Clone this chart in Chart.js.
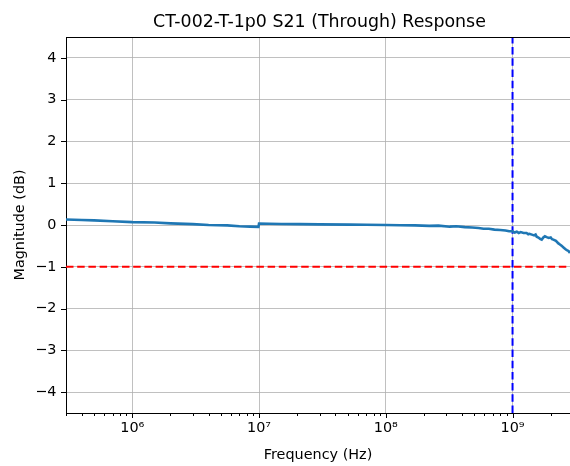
<!DOCTYPE html>
<html>
<head>
<meta charset="utf-8">
<script src="https://cdn.jsdelivr.net/npm/chart.js@4"></script>
<style>
  html, body { margin: 0; padding: 0; background: #fff; overflow: hidden; }
  #wrap { width: 570px; height: 466px; }
</style>
</head>
<body>
<div id="wrap"><canvas id="chart-s21" width="570" height="466"></canvas></div>
<script>
const chartTitle = 'CT-002-T-1p0 S21 (Through) Response';

// Trace
const freqHz = [3e5, 4e5, 5e5, 7e5, 1e6, 1.5e6, 2e6, 3e6, 4e6, 5.6e6, 7e6, 8.5e6, 9.9e6,
    1.0e7, 1.2e7, 1.5e7, 2.1e7, 3e7, 5.2e7, 7e7, 1e8, 1.3e8, 1.7e8, 2.2e8, 2.6e8, 3.2e8,
    3.6e8, 4.2e8, 4.8e8, 5.4e8, 5.9e8, 6.5e8, 7.2e8, 8e8, 8.8e8, 9.4e8, 1e9, 1.04e9, 1.08e9,
    1.12e9, 1.16e9, 1.22e9, 1.29e9, 1.33e9, 1.36e9, 1.42e9, 1.48e9, 1.52e9, 1.55e9, 1.6e9,
    1.65e9, 1.7e9, 1.75e9, 1.8e9, 1.86e9, 1.93e9, 2e9, 2.05e9, 2.1e9, 2.2e9, 2.3e9, 2.35e9,
    2.45e9, 2.5e9, 2.55e9, 2.62e9, 2.68e9, 2.76e9, 2.84e9, 2.92e9, 3e9];
const magDb = [0.13, 0.12, 0.11, 0.09, 0.07, 0.06, 0.04, 0.02, 0.00, -0.01, -0.03, -0.04, -0.045,
    0.035, 0.03, 0.025, 0.02, 0.015, 0.01, 0.005, 0.0, -0.005, -0.01, -0.02, -0.015, -0.04,
    -0.03, -0.05, -0.06, -0.07, -0.09, -0.09, -0.11, -0.12, -0.13, -0.15, -0.15, -0.18, -0.16,
    -0.19, -0.17, -0.19, -0.19, -0.22, -0.21, -0.23, -0.25, -0.23, -0.28, -0.30,
    -0.33, -0.35, -0.30, -0.27, -0.29, -0.31, -0.30, -0.34, -0.35, -0.38, -0.44, -0.46,
    -0.50, -0.53, -0.55, -0.58, -0.60, -0.62, -0.67, -0.70, -0.72];

// Reference markers
const limitDb = -1;
const markerHz = 1e9;

// Axes
const xRange = [3e5, 2.84e9];
const yRange = [-4.5, 4.5];
const xMajorTicks = [1e6, 1e7, 1e8, 1e9];
const xMajorLabels = ['10\u2076', '10\u2077', '10\u2078', '10\u2079'];
const yTicks = [-4, -3, -2, -1, 0, 1, 2, 3, 4];

const FONT = "'DejaVu Sans', sans-serif";

// minor tick positions: 2..9 x each decade inside range
const xMinorTicks = [];
[1e5, 1e6, 1e7, 1e8, 1e9].forEach(d => {
    for (let m = 2; m <= 9; m++) {
        const v = m * d;
        if (v >= xRange[0] && v <= xRange[1]) xMinorTicks.push(v);
    }
});

const frame = {
    id: 'frame',
    afterDraw(chart) {
        const { ctx, chartArea: a, scales } = chart;
        ctx.save();
        ctx.strokeStyle = '#000';
        ctx.lineWidth = 1;
        ctx.beginPath();
        xMajorTicks.forEach(v => {
            const px = Math.round(scales.x.getPixelForValue(v)) + 0.5;
            ctx.moveTo(px, a.bottom); ctx.lineTo(px, a.bottom + 5);
        });
        xMinorTicks.forEach(v => {
            const px = Math.round(scales.x.getPixelForValue(v)) + 0.5;
            ctx.moveTo(px, a.bottom); ctx.lineTo(px, a.bottom + 3);
        });
        yTicks.forEach(v => {
            const py = Math.round(scales.y.getPixelForValue(v)) + 0.5;
            ctx.moveTo(a.left, py); ctx.lineTo(a.left - 5, py);
        });
        // top spine
        ctx.moveTo(a.left, a.top + 0.5); ctx.lineTo(a.right, a.top + 0.5);
        ctx.stroke();

        ctx.fillStyle = '#000';
        ctx.font = "17.4px " + FONT;
        ctx.textAlign = 'center';
        ctx.textBaseline = 'alphabetic';
        ctx.fillText(chartTitle, (a.left + 573) / 2, 27);
        ctx.restore();
    }
};

new Chart(document.getElementById('chart-s21'), {
    type: 'line',
    data: {
        datasets: [{
            label: 'S21',
            data: freqHz.map((f, i) => ({ x: f, y: magDb[i] })),
            borderColor: '#1f77b4',
            borderWidth: 2.6,
            pointRadius: 0,
            tension: 0
        }, {
            label: 'limit',
            data: xRange.map(f => ({ x: f, y: limitDb })),
            borderColor: '#ff0000',
            borderWidth: 2,
            borderDash: [7.5, 3.7],
            pointRadius: 0
        }, {
            label: 'marker',
            data: yRange.map(v => ({ x: markerHz, y: v })),
            borderColor: '#0000ff',
            borderWidth: 2,
            borderDash: [7.5, 3.7],
            pointRadius: 0
        }]
    },
    options: {
        responsive: false,
        animation: false,
        devicePixelRatio: 1,
        layout: { padding: { top: 37, left: 0, right: 0, bottom: 0 } },
        plugins: {
            legend: { display: false },
            title: { display: false },
            tooltip: { enabled: false }
        },
        scales: {
            x: {
                type: 'logarithmic',
                position: 'bottom',
                min: xRange[0],
                max: xRange[1],
                afterBuildTicks: s => {
                    s.ticks = xMajorTicks.map(v => ({ value: v, major: true }))
                        .concat(xMinorTicks.map(v => ({ value: v, major: false })));
                },
                afterFit: s => { s.height = 53; },
                grid: {
                    color: c => (c.tick && c.tick.major) ? '#b0b0b0' : 'rgba(0,0,0,0)',
                    lineWidth: 0.8,
                    drawTicks: false
                },
                border: { display: true, color: '#000', width: 1 },
                ticks: {
                    autoSkip: false,
                    maxRotation: 0,
                    padding: 7,
                    color: '#000',
                    font: { family: FONT, size: 14.4 },
                    callback: (v, i, ticks) => {
                        const k = xMajorTicks.indexOf(ticks[i].value);
                        return k >= 0 ? xMajorLabels[k] : '';
                    }
                },
                title: {
                    display: true,
                    text: 'Frequency (Hz)',
                    color: '#000',
                    font: { family: FONT, size: 14.4 },
                    padding: { top: 0, bottom: 2 }
                }
            },
            y: {
                type: 'linear',
                min: yRange[0],
                max: yRange[1],
                afterBuildTicks: s => { s.ticks = yTicks.map(v => ({ value: v })); },
                afterFit: s => { s.width = 66; },
                grid: {
                    color: '#b0b0b0',
                    lineWidth: 0.8,
                    drawTicks: false
                },
                border: { display: true, color: '#000', width: 1 },
                ticks: {
                    padding: 9.5,
                    color: '#000',
                    font: { family: FONT, size: 14.4 },
                    callback: v => String(v).replace('-', '\u2212')
                },
                title: {
                    display: true,
                    text: 'Magnitude (dB)',
                    color: '#000',
                    font: { family: FONT, size: 14.4 },
                    padding: { top: 12, bottom: 0 }
                }
            }
        }
    },
    plugins: [frame]
});
</script>
</body>
</html>
